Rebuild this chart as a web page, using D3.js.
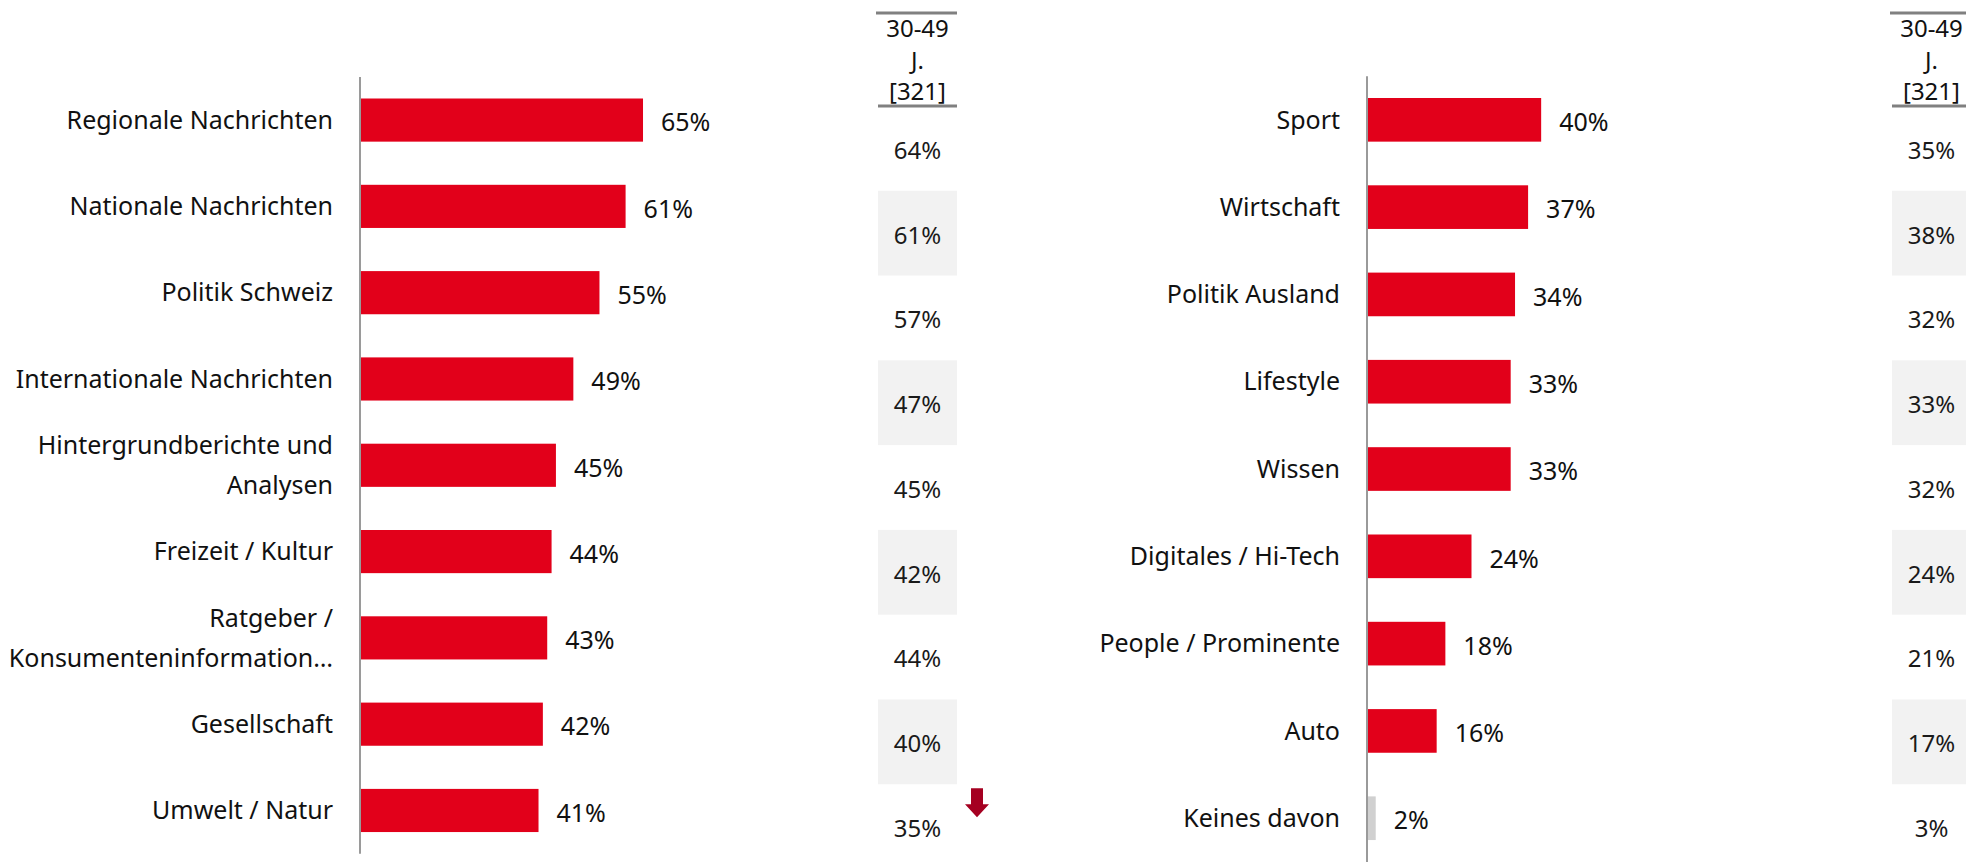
<!DOCTYPE html>
<meta charset="utf-8">
<script src="https://d3js.org/d3.v7.min.js"></script>
<style>
  body { margin: 0; background: #fff; }
  svg { display: block; font-family: "Noto Sans", sans-serif; }
</style>
<div id="chart"></div>
<script>
  // categories and values
  var leftCats = ["Regionale Nachrichten", "Nationale Nachrichten", "Politik Schweiz",
    "Internationale Nachrichten", "Hintergrundberichte und\nAnalysen", "Freizeit / Kultur",
    "Ratgeber /\nKonsumenteninformation…", "Gesellschaft", "Umwelt / Natur"];
  var leftTotal = [65, 61, 55, 49, 45, 44, 43, 42, 41];
  var leftAge = [64, 61, 57, 47, 45, 42, 44, 40, 35];
  var leftArrows = ["", "", "", "", "", "", "", "", "down"];

  var rightCats = ["Sport", "Wirtschaft", "Politik Ausland", "Lifestyle", "Wissen",
    "Digitales / Hi-Tech", "People / Prominente", "Auto", "Keines davon"];
  var rightTotal = [40, 37, 34, 33, 33, 24, 18, 16, 2];
  var rightAge = [35, 38, 32, 33, 32, 24, 21, 17, 3];
  var rightArrows = ["", "", "", "", "", "", "", "", ""];

  var colHeader = ["30-49", "J.", "[321]"];
  var greyCats = ["Keines davon"];

  var W = 1966, H = 866;
  var red = "#e2001a", grey = "#d0d0d0";

  var svg = d3.select("#chart").append("svg")
    .attr("width", W)
    .attr("height", H);

  // column rows (same for both panels)
  var yCol = d3.scaleBand()
    .domain(d3.range(9))
    .range([106, 869]);

  function panel(cats, total, age, arrows, axisX, yRange, colX) {
    var g = svg.append("g");

    var x = d3.scaleLinear()
      .domain([0, 100])
      .range([axisX, axisX + 435.4]);

    var y = d3.scaleBand()
      .domain(cats)
      .range(yRange)
      .padding(0.5);

    // bars
    g.selectAll("rect.bar")
      .data(cats)
      .enter().append("rect")
      .attr("class", "bar")
      .attr("x", x(0))
      .attr("y", function(d) { return y(d); })
      .attr("width", function(d, i) { return x(total[i]) - x(0); })
      .attr("height", y.bandwidth())
      .attr("fill", function(d) { return greyCats.indexOf(d) >= 0 ? grey : red; });

    // axis line
    g.append("line")
      .attr("x1", axisX).attr("x2", axisX)
      .attr("y1", yRange[0] + y.step() * 0.25)
      .attr("y2", yRange[1] - y.step() * 0.25)
      .attr("stroke", "#9a9a9a")
      .attr("stroke-width", 2);

    // category labels
    g.selectAll("text.cat")
      .data(cats)
      .enter().append("text")
      .attr("class", "cat")
      .attr("text-anchor", "end")
      .attr("font-size", 25)
      .attr("fill", "#111")
      .each(function(d) {
        var lines = d.split("\n");
        var cy = y(d) + y.bandwidth() / 2;
        var t = d3.select(this);
        lines.forEach(function(l, k) {
          t.append("tspan")
            .attr("x", axisX - 27)
            .attr("y", cy + (k - (lines.length - 1) / 2) * 40)
            .attr("dy", "0.35em")
            .text(l);
        });
      });

    // value labels
    g.selectAll("text.val")
      .data(cats)
      .enter().append("text")
      .attr("class", "val")
      .attr("x", function(d, i) { return x(total[i]) + 18; })
      .attr("y", function(d) { return y(d) + y.bandwidth() / 2 + 2.5; })
      .attr("dy", "0.35em")
      .attr("font-size", 25)
      .attr("fill", "#111")
      .text(function(d, i) { return total[i] + "%"; });

    // side column: shading, header, values
    var cw = 79, cx = colX + cw / 2;
    g.selectAll("rect.shade")
      .data(d3.range(9).filter(function(i) { return i % 2 === 1; }))
      .enter().append("rect")
      .attr("class", "shade")
      .attr("x", colX)
      .attr("y", function(i) { return yCol(i); })
      .attr("width", cw)
      .attr("height", yCol.bandwidth())
      .attr("fill", "#f2f2f2");

    g.append("line")
      .attr("x1", colX - 2).attr("x2", colX + cw)
      .attr("y1", 13).attr("y2", 13)
      .attr("stroke", "#808080").attr("stroke-width", 3);
    g.append("line")
      .attr("x1", colX).attr("x2", colX + cw)
      .attr("y1", 106).attr("y2", 106)
      .attr("stroke", "#808080").attr("stroke-width", 3);

    g.selectAll("text.head")
      .data(colHeader)
      .enter().append("text")
      .attr("class", "head")
      .attr("x", cx)
      .attr("y", function(d, i) { return 37 + i * 31.5; })
      .attr("text-anchor", "middle")
      .attr("font-size", 24)
      .attr("fill", "#111")
      .text(function(d) { return d; });

    g.selectAll("text.age")
      .data(age)
      .enter().append("text")
      .attr("class", "age")
      .attr("x", cx)
      .attr("y", function(d, i) { return yCol(i) + yCol.bandwidth() / 2 + 2; })
      .attr("dy", "0.35em")
      .attr("text-anchor", "middle")
      .attr("font-size", 24)
      .attr("fill", "#1a1a1a")
      .text(function(d) { return d + "%"; });

    // significance arrows
    g.selectAll("path.arrow")
      .data(d3.range(9).filter(function(i) { return arrows[i] === "down"; }))
      .enter().append("path")
      .attr("class", "arrow")
      .attr("transform", function(i) {
        return "translate(" + (colX + cw + 20) + "," + (yCol(i) + 4) + ")";
      })
      .attr("d", "M-6,0 H6 V16 H12 L0,29 L-12,16 H-6 Z")
      .attr("fill", "#a50021");
  }

  panel(leftCats, leftTotal, leftAge, leftArrows, 360, [55.35, 875.2], 878);
  panel(rightCats, rightTotal, rightAge, rightArrows, 1367, [54.35, 883.7], 1892);
</script>
